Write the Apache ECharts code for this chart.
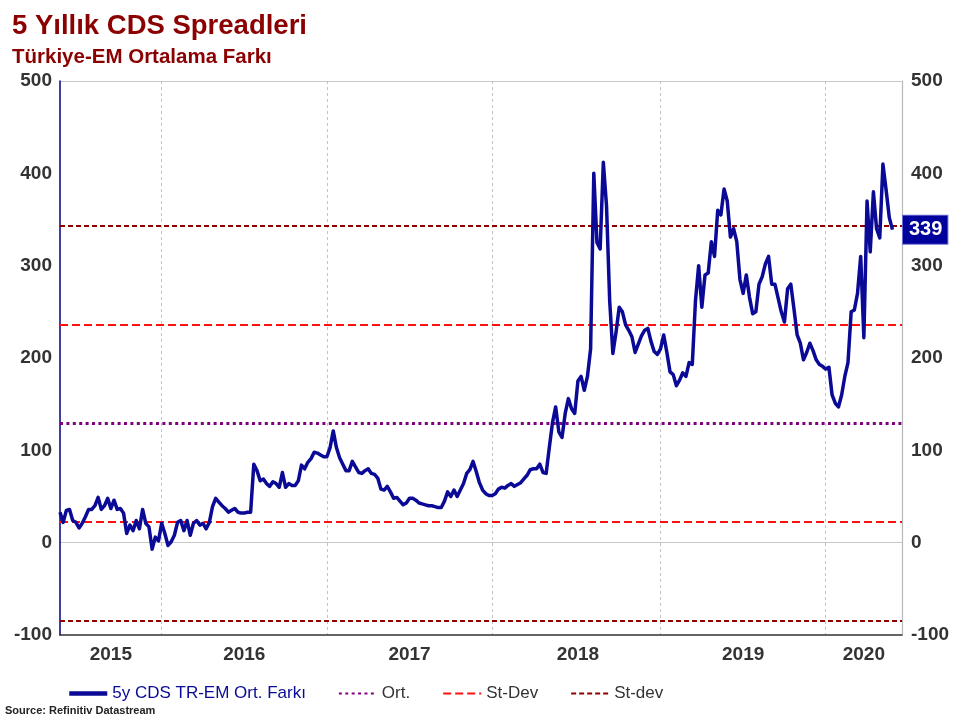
<!DOCTYPE html>
<html>
<head>
<meta charset="utf-8">
<title>5 Yıllık CDS Spreadleri</title>
<script src="https://cdn.jsdelivr.net/npm/echarts@6/dist/echarts.min.js"></script>
<style>
html, body { margin: 0; padding: 0; background: #fff; }
#chart { width: 960px; height: 720px; }
</style>
</head>
<body>
<div id="chart"></div>
<script>
// haftalik kategoriler: 2015-05-22 den itibaren
var startDate = '2015-05-22';
var weekCount = 266;

// 5y CDS TR-EM farki (haftalik)
var spread2015 = [33, 22, 35, 36, 24, 22, 16, 21, 28, 36, 36, 40, 49, 36, 40, 48, 37, 46, 36, 37,
	32, 10, 19, 13, 24, 15, 36, 21, 17, -7, 6, 2];
var spread2016 = [21, 10, -3, 1, 8, 22, 24, 13, 24, 8, 21, 24, 19, 21, 15, 22, 39, 48, 44, 40,
	37, 33, 35, 37, 33, 32, 32, 33, 33, 85, 78, 67, 69, 64, 61, 66, 64, 60, 76, 60,
	64, 62, 62, 67, 84, 80, 87, 91, 98, 97, 95, 93, 93];
var spread2017 = [103, 121, 103, 92, 85, 78, 78, 88, 82, 76, 75, 78, 80, 75, 74, 70, 58, 57, 61, 55,
	48, 49, 45, 41, 43, 48, 48, 46, 43, 42, 41, 40, 40, 39, 38, 38, 45, 55, 50, 57,
	50, 57, 64, 75, 79, 88, 77, 65, 57, 53, 51, 51];
var spread2018 = [53, 58, 60, 59, 62, 64, 61, 63, 65, 69, 73, 79, 80, 80, 85, 76, 75, 103, 130, 147,
	120, 114, 140, 156, 145, 140, 175, 180, 165, 180, 210, 400, 325, 318, 412, 365, 262, 205, 228, 255,
	250, 236, 230, 223, 206, 215, 224, 230, 232, 218, 207, 204];
var spread2019 = [210, 225, 206, 185, 182, 170, 176, 184, 180, 195, 193, 262, 300, 255, 290, 292, 326, 310, 360, 355,
	383, 370, 331, 340, 326, 285, 270, 290, 266, 248, 250, 280, 288, 302, 310, 280, 280, 265, 250, 239,
	275, 280, 253, 225, 216, 198, 206, 216, 208, 198, 193, 191];
var spread2020 = [188, 190, 160, 151, 147, 160, 180, 195, 250, 252, 270, 310, 222, 370, 315, 380, 340, 330, 410, 382,
	352, 339];

// ortalama ve standart sapma cizgileri
var ortLine = [129.2];
var stDevLines = [236, 22.4];
var stDev2Lines = [342.8, -84.4];

var yTicks = [-100, 0, 100, 200, 300, 400, 500];

var cdsSpread = [].concat(spread2015, spread2016, spread2017, spread2018, spread2019, spread2020);
var lastValue = cdsSpread[cdsSpread.length - 1];

var weeks = [];
(function () {
	var t0 = new Date(startDate + 'T00:00:00Z').getTime();
	for (var i = 0; i < weekCount; i++) {
		weeks.push(new Date(t0 + i * 7 * 86400000).toISOString().slice(0, 10));
	}
})();

// yil sinirlari (1 Ocak'a en yakin hafta) ve yil etiketlerinin yeri (gorunen araligin ortasi)
var yearStart = {};
var yearMid = {};
(function () {
	var bounds = [0];
	for (var y = 2016; y <= 2020; y++) {
		var jan1 = Date.UTC(y, 0, 1), best = 0, bestDiff = Infinity;
		for (var i = 0; i < weeks.length; i++) {
			var d = Math.abs(new Date(weeks[i] + 'T00:00:00Z').getTime() - jan1);
			if (d < bestDiff) { bestDiff = d; best = i; }
		}
		bounds.push(best);
		yearStart[best] = true;
	}
	bounds.push(weeks.length - 1);
	for (var k = 0; k < bounds.length - 1; k++) {
		yearMid[Math.round((bounds[k] + bounds[k + 1]) / 2)] = 2015 + k;
	}
})();

var navy = '#0a0a96';
var fontFamily = "'Liberation Sans', Arial, sans-serif";
var axisText = { fontSize: 19, fontWeight: 'bold', color: '#333', fontFamily: fontFamily };

var chart = echarts.init(document.getElementById('chart'));

function refMarkLine(values, style) {
	return {
		silent: true,
		symbol: 'none',
		label: { show: false },
		lineStyle: style,
		data: values.map(function (v) { return { yAxis: v }; })
	};
}

var ortStyle = { color: '#800080', width: 3, type: [3, 3.4] };
var stDevStyle = { color: '#ff1010', width: 2, type: [8, 4] };
var stDev2Style = { color: '#8b0000', width: 2, type: [5, 3] };

var option = {
	animation: false,
	backgroundColor: '#fff',
	textStyle: { fontFamily: fontFamily },
	title: [{
		text: '5 Yıllık CDS Spreadleri',
		left: 12, top: 12, padding: 0,
		textStyle: { color: '#8b0000', fontSize: 27.5, fontWeight: 'bold', fontFamily: fontFamily }
	}, {
		text: 'Türkiye-EM Ortalama Farkı',
		left: 12, top: 47, padding: 0,
		textStyle: { color: '#8b0000', fontSize: 20.5, fontWeight: 'bold', fontFamily: fontFamily }
	}, {
		text: 'Source: Refinitiv Datastream',
		left: 5, top: 705, padding: 0,
		textStyle: { color: '#222', fontSize: 11, fontWeight: 'bold', fontFamily: fontFamily }
	}],
	legend: {
		left: 62, top: 680,
		itemWidth: 38, itemHeight: 12, itemGap: 32,
		itemStyle: { opacity: 0 },
		textStyle: { fontSize: 17, color: '#333', fontFamily: fontFamily },
		data: [
			{ name: '5y CDS TR-EM Ort. Farkı', textStyle: { color: navy }, lineStyle: { width: 4.5 } },
			'Ort.', 'St-Dev', 'St-dev'
		]
	},
	grid: { left: 60, right: 58, top: 81, bottom: 85 },
	xAxis: {
		type: 'category',
		data: weeks,
		boundaryGap: false,
		axisLine: { onZero: false, lineStyle: { color: '#333', width: 1.5 } },
		axisTick: { show: false },
		axisLabel: Object.assign({
			margin: 10,
			interval: function (index) { return yearMid[index] !== undefined; },
			formatter: function (value, index) { return String(yearMid[index]); }
		}, axisText),
		splitLine: {
			show: true,
			interval: function (index) { return yearStart[index] === true; },
			lineStyle: { color: '#c4c4c4', width: 1, type: [3, 3] }
		}
	},
	yAxis: [{
		type: 'value',
		position: 'left',
		min: yTicks[0], max: yTicks[yTicks.length - 1], interval: 100,
		axisLine: { show: true, lineStyle: { color: '#000080', width: 1.5 } },
		axisTick: { show: false },
		axisLabel: Object.assign({ margin: 8 }, axisText),
		splitLine: {
			show: true,
			lineStyle: {
				color: yTicks.map(function (v) { return (v === 0 || v === 500) ? '#c8c8c8' : 'rgba(0,0,0,0)'; }),
				width: 1.2
			}
		}
	}, {
		type: 'value',
		position: 'right',
		min: yTicks[0], max: yTicks[yTicks.length - 1], interval: 100,
		axisLine: { show: true, lineStyle: { color: '#b8b8b8', width: 1.2 } },
		axisTick: { show: false },
		axisLabel: Object.assign({ margin: 9 }, axisText),
		splitLine: { show: false }
	}],
	series: [{
		name: 'Ort.',
		type: 'line',
		data: [],
		symbol: 'none',
		z: 2,
		lineStyle: ortStyle,
		itemStyle: { color: ortStyle.color },
		markLine: refMarkLine(ortLine, ortStyle)
	}, {
		name: 'St-Dev',
		type: 'line',
		data: [],
		symbol: 'none',
		z: 2,
		lineStyle: stDevStyle,
		itemStyle: { color: stDevStyle.color },
		markLine: refMarkLine(stDevLines, stDevStyle)
	}, {
		name: 'St-dev',
		type: 'line',
		data: [],
		symbol: 'none',
		z: 2,
		lineStyle: stDev2Style,
		itemStyle: { color: stDev2Style.color },
		markLine: refMarkLine(stDev2Lines, stDev2Style)
	}, {
		name: '5y CDS TR-EM Ort. Farkı',
		type: 'line',
		data: cdsSpread,
		symbol: 'none',
		z: 5,
		lineStyle: { color: navy, width: 3.5, join: 'round' },
		itemStyle: { color: navy },
		markLine: {
			silent: true,
			symbol: 'none',
			lineStyle: { width: 1, color: 'rgba(0,0,0,0)', type: 'solid' },
			label: {
				show: true,
				position: 'end',
				distance: 1,
				formatter: String(Math.round(lastValue)),
				color: '#fff',
				fontSize: 20,
				fontWeight: 'bold',
				fontFamily: fontFamily,
				backgroundColor: '#00009a',
				borderColor: '#6b6bd6',
				borderWidth: 1,
				padding: [5, 5, 3, 6]
			},
			data: [{ yAxis: lastValue }]
		}
	}]
};

chart.setOption(option);
</script>
</body>
</html>
